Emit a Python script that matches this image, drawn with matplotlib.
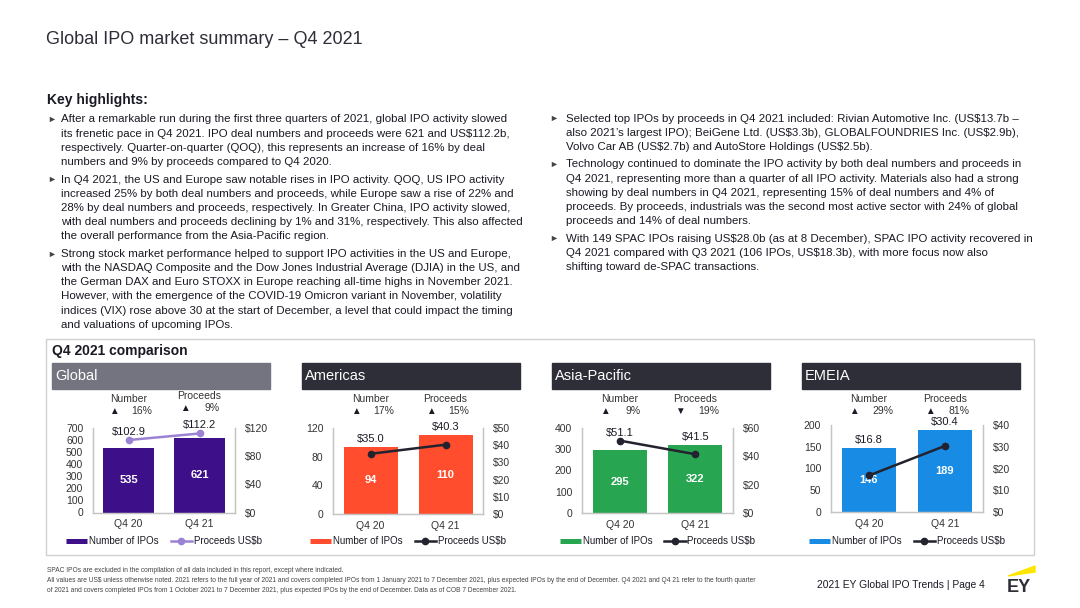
import matplotlib
matplotlib.use('Agg')
import matplotlib.pyplot as plt
from matplotlib.lines import Line2D
from matplotlib.patches import Rectangle, Polygon
from matplotlib.transforms import blended_transform_factory

plt.rcParams['font.family'] = ['Liberation Sans', 'DejaVu Sans']
plt.rcParams['text.parse_math'] = False

W, H = 1080, 608

# chart data
regions = ['Global', 'Americas', 'Asia-Pacific', 'EMEIA']
quarters = ['Q4 20', 'Q4 21']
ipo_numbers = [[535, 621], [94, 110], [295, 322], [146, 189]]
proceeds = [[102.9, 112.2], [35.0, 40.3], [51.1, 41.5], [16.8, 30.4]]
number_change = ['16%', '17%', '9%', '29%']
number_up = [True, True, True, True]
proceeds_change = ['9%', '15%', '19%', '81%']
proceeds_up = [True, True, False, True]
number_ticks = [[0, 100, 200, 300, 400, 500, 600, 700], [0, 40, 80, 120],
                [0, 100, 200, 300, 400], [0, 50, 100, 150, 200]]
proceeds_ticks = [[0, 40, 80, 120], [0, 10, 20, 30, 40, 50],
                  [0, 20, 40, 60], [0, 10, 20, 30, 40]]

bar_colors = ['#3d108a', '#ff4d2d', '#28a550', '#188ce5']
line_colors = ['#9c82d4', '#23232f', '#23232f', '#23232f']
header_colors = ['#747480', '#2e2e38', '#2e2e38', '#2e2e38']

title = 'Global IPO market summary \u2013 Q4 2021'
left_paras = [
    ['After a remarkable run during the first three quarters of 2021, global IPO activity slowed',
     'its frenetic pace in Q4 2021. IPO deal numbers and proceeds were 621 and US$112.2b,',
     'respectively. Quarter-on-quarter (QOQ), this represents an increase of 16% by deal',
     'numbers and 9% by proceeds compared to Q4 2020.'],
    ['In Q4 2021, the US and Europe saw notable rises in IPO activity. QOQ, US IPO activity',
     'increased 25% by both deal numbers and proceeds, while Europe saw a rise of 22% and',
     '28% by deal numbers and proceeds, respectively. In Greater China, IPO activity slowed,',
     'with deal numbers and proceeds declining by 1% and 31%, respectively. This also affected',
     'the overall performance from the Asia-Pacific region.'],
    ['Strong stock market performance helped to support IPO activities in the US and Europe,',
     'with the NASDAQ Composite and the Dow Jones Industrial Average (DJIA) in the US, and',
     'the German DAX and Euro STOXX in Europe reaching all-time highs in November 2021.',
     'However, with the emergence of the COVID-19 Omicron variant in November, volatility',
     'indices (VIX) rose above 30 at the start of December, a level that could impact the timing',
     'and valuations of upcoming IPOs.'],
]
right_paras = [
    ['Selected top IPOs by proceeds in Q4 2021 included: Rivian Automotive Inc. (US$13.7b \u2013',
     'also 2021\u2019s largest IPO); BeiGene Ltd. (US$3.3b), GLOBALFOUNDRIES Inc. (US$2.9b),',
     'Volvo Car AB (US$2.7b) and AutoStore Holdings (US$2.5b).'],
    ['Technology continued to dominate the IPO activity by both deal numbers and proceeds in',
     'Q4 2021, representing more than a quarter of all IPO activity. Materials also had a strong',
     'showing by deal numbers in Q4 2021, representing 15% of deal numbers and 4% of',
     'proceeds. By proceeds, industrials was the second most active sector with 24% of global',
     'proceeds and 14% of deal numbers.'],
    ['With 149 SPAC IPOs raising US$28.0b (as at 8 December), SPAC IPO activity recovered in',
     'Q4 2021 compared with Q3 2021 (106 IPOs, US$18.3b), with more focus now also',
     'shifting toward de-SPAC transactions.'],
]
footer_lines = [
    'SPAC IPOs are excluded in the compilation of all data included in this report, except where indicated.',
    'All values are US$ unless otherwise noted. 2021 refers to the full year of 2021 and covers completed IPOs from 1 January 2021 to 7 December 2021, plus expected IPOs by the end of December. Q4 2021 and Q4 21 refer to the fourth quarter',
    'of 2021 and covers completed IPOs from 1 October 2021 to 7 December 2021, plus expected IPOs by the end of December. Data as of COB 7 December 2021.',
]

TEXT = '#1a1a24'
GREY = '#333333'


def fx(x):
    return x / W


def fy(y):
    return 1 - y / H


fig = plt.figure(figsize=(W / 100, H / 100), dpi=100)
fig.patch.set_facecolor('white')

fig.text(fx(46), fy(40), title, fontsize=13, color='#2e2e38', va='center')
fig.text(fx(47), fy(100), 'Key highlights:', fontsize=10, fontweight='bold', color=TEXT, va='center')


def draw_paras(paras, x_bullet, x_text, y0):
    y = y0
    for para in paras:
        fig.text(fx(x_bullet), fy(y), '\u25ba', fontsize=6.5, color='#444444', va='center')
        for line in para:
            fig.text(fx(x_text), fy(y), line, fontsize=8.25, color=TEXT, va='center')
            y += 14.2
        y += 17.5 - 14.2


draw_paras(left_paras, 47, 61, 119.5)
draw_paras(right_paras, 549, 566, 118.5)

# comparison box
fig.patches.append(Rectangle((fx(45.5), fy(555)), (1034 - 45.5) / W, (555 - 338.5) / H,
                             transform=fig.transFigure, fill=False, edgecolor='#cfcfd6', lw=1))
fig.text(fx(52), fy(351), 'Q4 2021 comparison', fontsize=10, fontweight='bold', color=TEXT, va='center')

header_left = [52, 302, 552, 802]
axes_lr = [(93, 235), (333, 483), (582, 733), (831, 983)]
axes_tb = [(428, 512.5), (428, 514), (428, 513), (425, 512)]
head_y = [(399, 396), (399, 399), (399, 399), (399, 399)]

for k in range(4):
    hl = header_left[k]
    fig.patches.append(Rectangle((fx(hl), fy(389)), 218 / W, 26 / H,
                                 transform=fig.transFigure, color=header_colors[k]))
    fig.text(fx(hl + 3), fy(376), regions[k], fontsize=10.5, color='white', va='center')

    l, r = axes_lr[k]
    t, b = axes_tb[k]
    ax = fig.add_axes([fx(l), fy(b), (r - l) / W, (b - t) / H])
    nums = ipo_numbers[k]
    procs = proceeds[k]
    nmax = number_ticks[k][-1]
    pmax = proceeds_ticks[k][-1]

    ax.bar(range(2), nums, width=0.72, color=bar_colors[k], zorder=2)
    for i, n in enumerate(nums):
        ax.text(i, n / 2, str(n), ha='center', va='center', color='white',
                fontsize=8, fontweight='bold', zorder=3)
    ax.set_xlim(-0.5, 1.5)
    ax.set_ylim(0, nmax)
    ax.set_yticks(number_ticks[k])
    ax.set_xticks(range(2), quarters)
    ax.tick_params(length=0, labelsize=7.5, colors=GREY, pad=7)
    ax.tick_params(axis='x', pad=5)

    ax2 = ax.twinx()
    ax2.plot(range(2), procs, color=line_colors[k], lw=1.8, marker='o', ms=4.5, zorder=4)
    ax2.set_ylim(0, pmax)
    ax2.set_yticks(proceeds_ticks[k], ['$' + str(v) for v in proceeds_ticks[k]])
    ax2.tick_params(length=0, labelsize=7.5, colors=GREY, pad=7)
    for i, p in enumerate(procs):
        top = max(p, nums[i] / nmax * pmax)
        ax2.annotate('$%.1f' % p, xy=(i, top), xytext=(0, 8), textcoords='offset pixels',
                     ha='center', va='center', fontsize=8, color=TEXT)

    for a in (ax, ax2):
        a.spines['top'].set_visible(False)
        for s in ('left', 'right', 'bottom'):
            a.spines[s].set_color('#c4c4c4')
            a.spines[s].set_linewidth(0.9)

    tr = blended_transform_factory(ax.transData, fig.transFigure)
    heads = [('Number', number_change[k], number_up[k]),
             ('Proceeds', proceeds_change[k], proceeds_up[k])]
    for i, (name, pct, up) in enumerate(heads):
        hy = head_y[k][i]
        ax.text(i, fy(hy), name, transform=tr, ha='center', va='center', fontsize=7.5, color=GREY)
        ax.text(i - 0.2, fy(hy + 12), '\u25b2' if up else '\u25bc', transform=tr, ha='center',
                va='center', fontsize=7, color=TEXT)
        ax.text(i + 0.18, fy(hy + 12), pct, transform=tr, ha='center', va='center', fontsize=7.5, color=GREY)

    handles = [Line2D([], [], color=bar_colors[k], lw=3.6, solid_capstyle='butt'),
               Line2D([], [], color=line_colors[k], lw=1.8, marker='o', ms=4.5)]
    ax2.legend(handles, ['Number of IPOs', 'Proceeds US$b'], loc='center',
               bbox_to_anchor=(fx((l + r) / 2), fy(541)), bbox_transform=fig.transFigure,
               ncol=2, frameon=False, fontsize=7, handlelength=2.2, handletextpad=0.2,
               columnspacing=1.2, borderaxespad=0, borderpad=0, labelcolor=TEXT)

# footer
fig.text(fx(47), fy(571), footer_lines[0], fontsize=4.75, color='#444444', va='center')
fig.text(fx(47), fy(581), footer_lines[1], fontsize=4.75, color='#444444', va='center')
fig.text(fx(47), fy(590), footer_lines[2], fontsize=4.75, color='#444444', va='center')
fig.text(fx(985), fy(585), '2021 EY Global IPO Trends | Page 4', fontsize=7.4, color=TEXT,
         ha='right', va='center')
fig.text(fx(1007), fy(587), 'EY', fontsize=13, fontweight='bold', color='#2e2e38', va='center')
fig.patches.append(Polygon([(fx(1008), fy(576)), (fx(1035), fy(566)), (fx(1035), fy(572))],
                           closed=True, transform=fig.transFigure, color='#ffe600'))

fig.savefig('out.png', dpi=100)
